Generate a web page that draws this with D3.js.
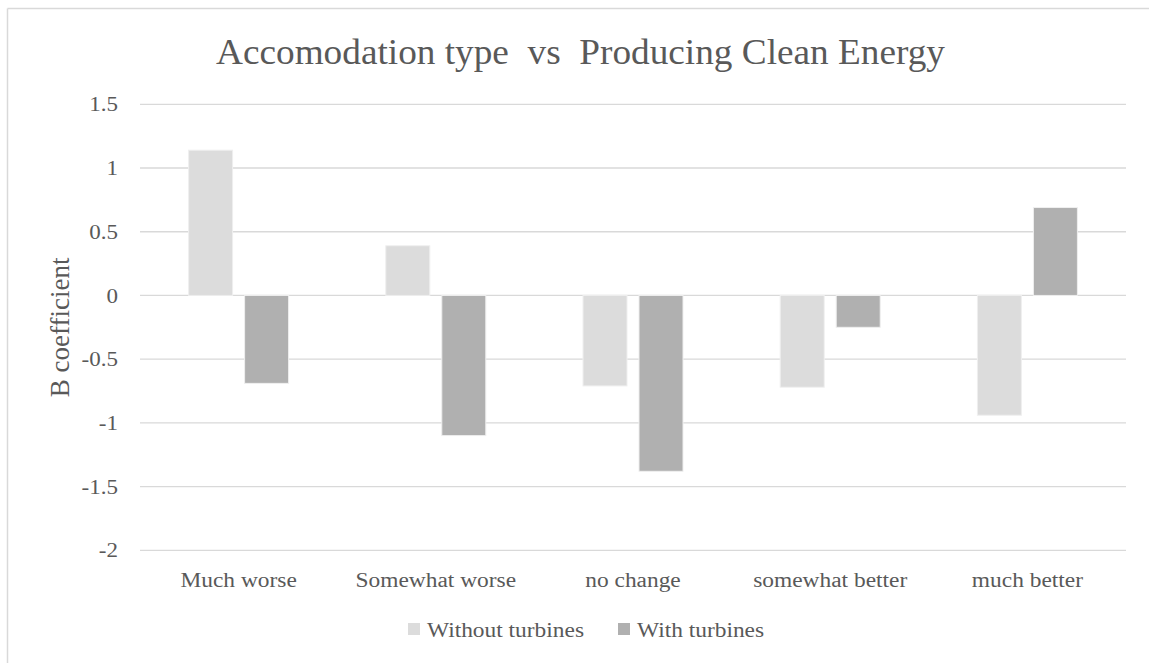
<!DOCTYPE html>
<html>
<head>
<meta charset="utf-8">
<script src="https://cdn.jsdelivr.net/npm/d3@7"></script>
<style>
  html, body { margin: 0; padding: 0; background: #fff; }
  svg { display: block; }
  svg text { font-family: "Liberation Serif", Tinos, "Times New Roman", Times, "Nimbus Roman", "Nimbus Roman No9 L", FreeSerif, "Noto Serif", "DejaVu Serif", serif; }
</style>
</head>
<body>
<svg id="chart" width="1149" height="663"></svg>
<script>
// Chart data
const categories = ["Much worse", "Somewhat worse", "no change", "somewhat better", "much better"];
const seriesNames = ["Without turbines", "With turbines"];
const withoutTurbines = [1.14, 0.39, -0.71, -0.72, -0.94];
const withTurbines = [-0.69, -1.10, -1.38, -0.25, 0.69];
const yTicks = [-2, -1.5, -1, -0.5, 0, 0.5, 1, 1.5];

const colors = ["#dcdcdc", "#b0b0b0"];
const textColor = "#595959";
const serif = "'Liberation Serif', Tinos, 'Times New Roman', Times, 'Nimbus Roman', FreeSerif, 'Noto Serif', 'DejaVu Serif', serif";

const svg = d3.select("#chart");
const W = 1149, H = 663;

// Widen glyphs horizontally by factor k (text set slightly wide)
function widen(sel, k) {
  sel.each(function () {
    const len = this.getComputedTextLength();
    d3.select(this).attr("textLength", len * k).attr("lengthAdjust", "spacingAndGlyphs");
  });
}

// Outer chart frame (top and left edges visible)
svg.append("line").attr("x1", 7.5).attr("x2", W).attr("y1", 8.5).attr("y2", 8.5)
  .attr("stroke", "#d9d9d9").attr("stroke-width", 1.5);
svg.append("line").attr("x1", 7.5).attr("x2", 7.5).attr("y1", 8.5).attr("y2", H)
  .attr("stroke", "#d9d9d9").attr("stroke-width", 1.5);

const plot = { left: 140, right: 1126, top: 104.3, bottom: 550.3 };

const x0 = d3.scaleBand().domain(categories).range([plot.left, plot.right]).paddingInner(0).paddingOuter(0);
const y = d3.scaleLinear().domain([-2, 1.5]).range([plot.bottom, plot.top]);

// Gridlines
svg.append("g").selectAll("line").data(yTicks).join("line")
  .attr("x1", plot.left).attr("x2", plot.right)
  .attr("y1", d => y(d)).attr("y2", d => y(d))
  .attr("stroke", "#d9d9d9").attr("stroke-width", 1.3);

// Y axis tick labels
const yAxis = d3.axisLeft(y).tickValues(yTicks).tickSize(0).tickPadding(0)
  .tickFormat(d => String(d));
const gy = svg.append("g").attr("transform", "translate(118,0)").call(yAxis);
gy.attr("font-family", serif).attr("font-size", 20);
gy.select(".domain").remove();
gy.selectAll("text").attr("fill", textColor).attr("dy", "0.33em");
widen(gy.selectAll("text"), 1.15);

// Bars
const bandW = x0.bandwidth();
const barW = 44;
const barGap = 12;
const series = [withoutTurbines, withTurbines];
const offsets = [-(barGap / 2 + barW), barGap / 2];

series.forEach((vals, si) => {
  svg.append("g").selectAll("rect").data(vals).join("rect")
    .attr("x", (d, i) => x0(categories[i]) + bandW / 2 + offsets[si])
    .attr("width", barW)
    .attr("y", d => y(Math.max(0, d)))
    .attr("height", d => Math.abs(y(d) - y(0)))
    .attr("fill", colors[si])
    .attr("stroke", "#efefef")
    .attr("stroke-width", 1);
});

// X axis category labels
const xAxis = d3.axisBottom(x0).tickSize(0).tickPadding(0);
const gx = svg.append("g").attr("transform", `translate(0,${plot.bottom + 37})`).call(xAxis);
gx.attr("font-family", serif).attr("font-size", 20);
gx.select(".domain").remove();
gx.selectAll("text").attr("fill", textColor).attr("dy", 0);
widen(gx.selectAll("text"), 1.17);

// Title
const title = svg.append("text")
  .attr("x", 580.5).attr("y", 64)
  .attr("text-anchor", "middle")
  .attr("fill", textColor)
  .attr("font-size", 35)
  .attr("xml:space", "preserve")
  .style("white-space", "pre")
  .text("Accomodation type  vs  Producing Clean Energy");
title.attr("textLength", 729).attr("lengthAdjust", "spacingAndGlyphs");

// Y axis title
svg.append("text")
  .attr("transform", `translate(69,${(plot.top + plot.bottom) / 2}) rotate(-90)`)
  .attr("text-anchor", "middle")
  .attr("fill", textColor)
  .attr("font-size", 27)
  .text("B coefficient");

// Legend
const legendItems = [
  { name: seriesNames[0], color: colors[0], x: 408 },
  { name: seriesNames[1], color: colors[1], x: 618 }
];
const lg = svg.append("g");
legendItems.forEach(it => {
  lg.append("rect").attr("x", it.x).attr("y", 623).attr("width", 12).attr("height", 12)
    .attr("fill", it.color);
  const t = lg.append("text").attr("x", it.x + 19).attr("y", 637)
    .attr("fill", textColor).attr("font-size", 20).text(it.name);
  widen(t, 1.17);
});
</script>
</body>
</html>
